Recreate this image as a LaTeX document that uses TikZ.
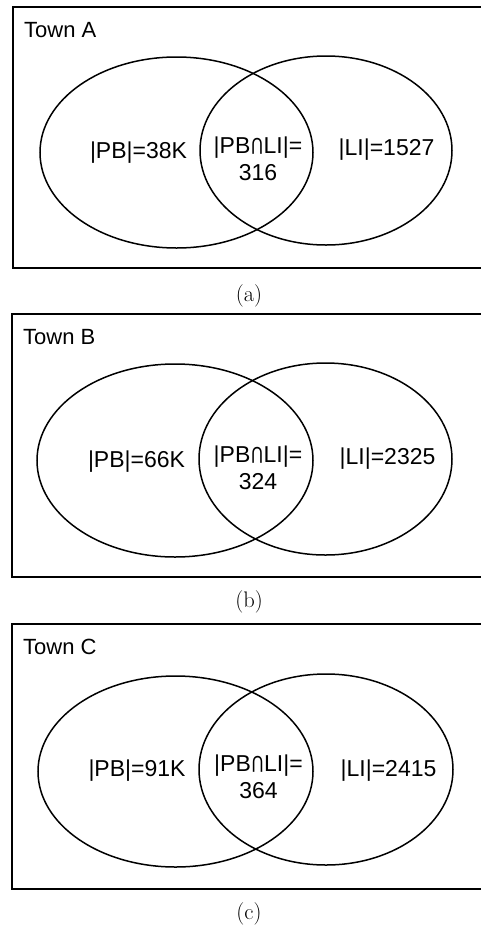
\documentclass[tikz,border=0pt]{standalone}
\usepackage{fontspec}
\newfontfamily\arial{Liberation Sans}
\newcommand\tallcap{\hspace{0.03em}\scalebox{0.72}[1]{\rotatebox[origin=c]{180}{U}}\hspace{0.03em}}
\begin{document}
\begin{tikzpicture}[x=1pt,y=-1pt,
  frame/.style={draw=black,line width=1.7pt},
  setline/.style={draw=black,line width=1.5pt},
  town/.style={anchor=base west,inner sep=0pt,font=\arial\fontsize{22}{26}\selectfont},
  lab/.style={inner sep=0pt,align=center,font=\arial\fontsize{23}{26.5}\selectfont},
  captext/.style={inner sep=0pt,font=\fontsize{22.5}{26}\selectfont}]
\useasboundingbox (0,0) rectangle (480,927);
% ---------- Panel A ----------
\draw[frame] (13,7) rectangle (500,268);
\draw[setline] (176.5,152.5) ellipse [x radius=136.5pt, y radius=95.5pt];
\draw[setline] (326,150.5) ellipse [x radius=126pt, y radius=94.5pt];
\node[town] (tA) at (24,37) {Town A};
\node[lab] (pbA) at (138.5,153) {|PB|=38K};
\node[lab] (inA) at (258,159) {|PB\tallcap LI|=\\316};
\node[lab] (liA) at (386.5,150) {|LI|=1527};
\node[captext] (capA) at (249,296) {(a)};
% ---------- Panel B ----------
\draw[frame] (12,314) rectangle (500,577);
\draw[setline] (175,460.5) ellipse [x radius=138pt, y radius=96.5pt];
\draw[setline] (325.5,459) ellipse [x radius=126.5pt, y radius=96pt];
\node[town] (tB) at (23,344) {Town B};
\node[lab] (pbB) at (136.5,462) {|PB|=66K};
\node[lab] (inB) at (258,468) {|PB\tallcap LI|=\\324};
\node[lab] (liB) at (387.5,459) {|LI|=2325};
\node[captext] (capB) at (249,602) {(b)};
% ---------- Panel C ----------
\draw[frame] (12,624) rectangle (500,889);
\draw[setline] (175.5,771.5) ellipse [x radius=137.5pt, y radius=95.5pt];
\draw[setline] (326,769.5) ellipse [x radius=127pt, y radius=95.5pt];
\node[town] (tC) at (23,654) {Town C};
\node[lab] (pbC) at (137,771) {|PB|=91K};
\node[lab] (inC) at (258.5,777) {|PB\tallcap LI|=\\364};
\node[lab] (liC) at (388.5,771) {|LI|=2415};
\node[captext] (capC) at (249,914) {(c)};
\end{tikzpicture}
\end{document}
